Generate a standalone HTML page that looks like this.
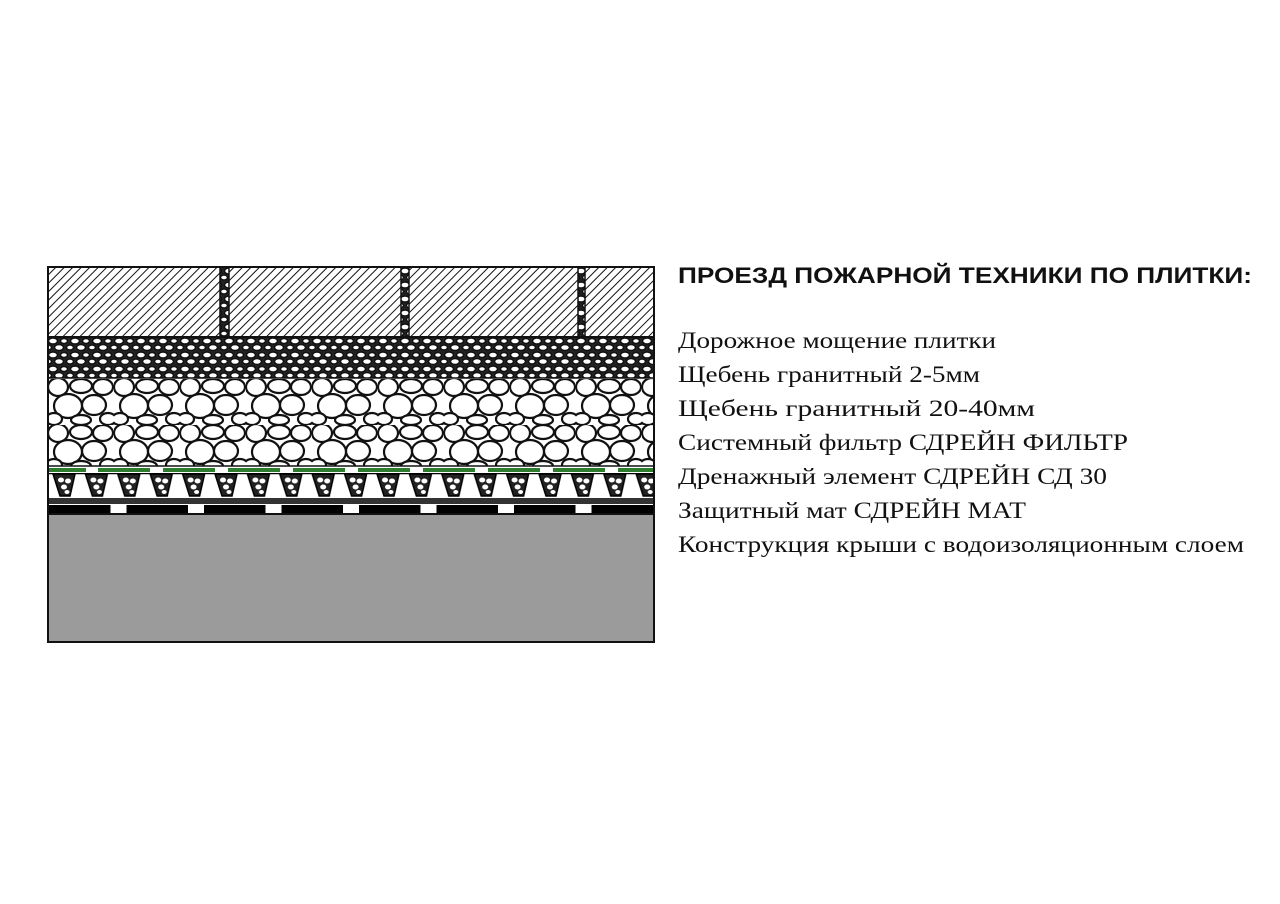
<!DOCTYPE html>
<html><head><meta charset="utf-8"><style>html,body{margin:0;padding:0;background:#fff}svg{display:block}</style></head>
<body>
<svg width="1280" height="904" viewBox="0 0 1280 904" xmlns="http://www.w3.org/2000/svg">
<defs>
<pattern id="hatch" width="6" height="6" patternUnits="userSpaceOnUse" patternTransform="rotate(45)">
<rect width="6" height="6" fill="#fff"/><line x1="0" y1="0" x2="0" y2="6" stroke="#111" stroke-width="2"/>
</pattern>
<pattern id="small" width="22" height="14" patternUnits="userSpaceOnUse" x="48" y="337">
<rect width="22" height="14" fill="#222"/>
<g fill="#fff" stroke="#111" stroke-width="1.5">
<ellipse cx="5" cy="4" rx="4.5" ry="3"/><ellipse cx="16" cy="4" rx="3.5" ry="2.5"/>
<ellipse cx="11" cy="10.5" rx="4.5" ry="3"/><ellipse cx="0" cy="10.5" rx="3.5" ry="2.5"/><ellipse cx="22" cy="10.5" rx="3.5" ry="2.5"/>
</g>
</pattern>
<pattern id="big" width="66" height="46" patternUnits="userSpaceOnUse" x="48" y="379">
<rect width="66" height="46" fill="#fff"/>
<g fill="#fff" stroke="#111" stroke-width="2.2">
<ellipse cx="10" cy="8" rx="10" ry="9"/><ellipse cx="33" cy="7" rx="11" ry="7"/><ellipse cx="55" cy="8" rx="10" ry="8"/>
<ellipse cx="20" cy="27" rx="14" ry="12"/><ellipse cx="46" cy="26" rx="12" ry="10"/>
<ellipse cx="6" cy="40" rx="8" ry="6"/><ellipse cx="33" cy="41" rx="10" ry="5"/><ellipse cx="60" cy="40" rx="8" ry="6"/>
</g>
</pattern>
<pattern id="green" width="65" height="5" patternUnits="userSpaceOnUse" x="98" y="468">
<rect x="0" y="0" width="52" height="4" fill="#2e7d2e"/>
</pattern>
<pattern id="cone" width="32.4" height="26" patternUnits="userSpaceOnUse" x="50" y="472">
<path d="M3 2 L25 2 L20 24 L10 24 Z" fill="#222" stroke="#000" stroke-width="1.5"/>
<ellipse cx="11" cy="8" rx="3" ry="2.5" fill="#fff"/><ellipse cx="18" cy="9" rx="3" ry="2.5" fill="#fff"/>
<ellipse cx="14" cy="15" rx="3" ry="2.5" fill="#fff"/><ellipse cx="17" cy="20" rx="2.5" ry="2" fill="#fff"/>
<line x1="0" y1="1.5" x2="32.4" y2="1.5" stroke="#000" stroke-width="1.5"/>
</pattern>
<pattern id="dash" width="77.5" height="9" patternUnits="userSpaceOnUse" x="49" y="505">
<rect width="61.5" height="9" fill="#000"/>
</pattern>
</defs>
<rect x="48" y="267" width="606" height="70" fill="url(#hatch)"/>
<g fill="url(#small)" stroke="#111" stroke-width="1.5">
<rect x="220" y="267" width="9" height="70"/><rect x="401" y="267" width="8" height="70"/><rect x="578" y="267" width="7" height="70"/>
</g>
<rect x="48" y="337" width="606" height="41" fill="url(#small)"/>
<line x1="48" y1="378" x2="654" y2="378" stroke="#111" stroke-width="1.5"/>
<rect x="48" y="379" width="606" height="87" fill="url(#big)"/>
<line x1="48" y1="466" x2="654" y2="466" stroke="#111" stroke-width="1.5"/>
<rect x="48" y="468" width="606" height="5" fill="#fff"/>
<rect x="49" y="468" width="37" height="4" fill="#2e7d2e"/>
<rect x="86" y="468" width="568" height="5" fill="url(#green)"/>
<rect x="48" y="473" width="606" height="25" fill="url(#cone)"/>
<rect x="48" y="498" width="606" height="6" fill="#333"/>
<rect x="48" y="505" width="606" height="9" fill="url(#dash)"/>
<rect x="48" y="514" width="606" height="128" fill="#9b9b9b"/>
<rect x="48" y="267" width="606" height="375" fill="none" stroke="#111" stroke-width="2"/>
<line x1="48" y1="514" x2="654" y2="514" stroke="#111" stroke-width="2"/>
<line x1="48" y1="337" x2="654" y2="337" stroke="#111" stroke-width="2"/>
<text x="678" y="283" font-family="Liberation Sans, sans-serif" font-size="22" font-weight="bold" textLength="574" lengthAdjust="spacingAndGlyphs" fill="#111">ПРОЕЗД ПОЖАРНОЙ ТЕХНИКИ ПО ПЛИТКИ:</text>
<g font-family="Liberation Serif, serif" font-size="23" fill="#111">
<text x="678" y="348" textLength="318" lengthAdjust="spacingAndGlyphs">Дорожное мощение плитки</text>
<text x="678" y="382" textLength="302" lengthAdjust="spacingAndGlyphs">Щебень гранитный 2-5мм</text>
<text x="678" y="416" textLength="357" lengthAdjust="spacingAndGlyphs">Щебень гранитный 20-40мм</text>
<text x="678" y="450" textLength="450" lengthAdjust="spacingAndGlyphs">Системный фильтр СДРЕЙН ФИЛЬТР</text>
<text x="678" y="484" textLength="429" lengthAdjust="spacingAndGlyphs">Дренажный элемент СДРЕЙН СД 30</text>
<text x="678" y="518" textLength="348" lengthAdjust="spacingAndGlyphs">Защитный мат СДРЕЙН МАТ</text>
<text x="678" y="552" textLength="566" lengthAdjust="spacingAndGlyphs">Конструкция крыши с водоизоляционным слоем</text>
</g>
</svg>
</body></html>
